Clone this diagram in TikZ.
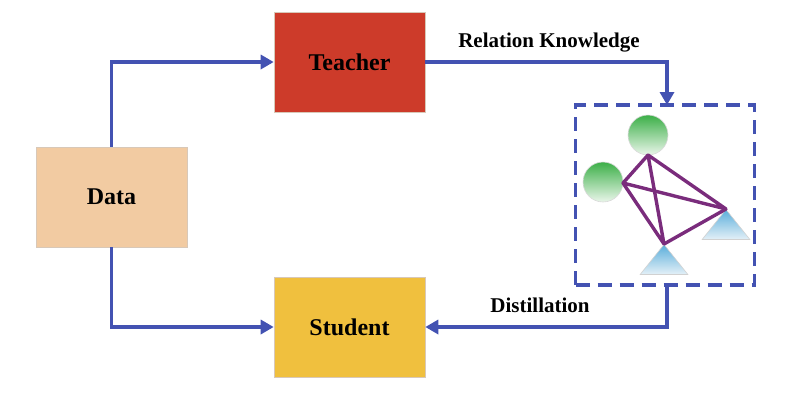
\documentclass[tikz,border=0pt]{standalone}
\usepackage{fontspec}
\setmainfont{Liberation Serif}
\usetikzlibrary{arrows.meta,shapes.geometric}
\definecolor{arrowblue}{HTML}{4352B2}
\definecolor{teacherred}{HTML}{CD3B2A}
\definecolor{datapeach}{HTML}{F2CBA2}
\definecolor{studentgold}{HTML}{F0C03E}
\definecolor{edgepurple}{HTML}{7A2C7C}
\definecolor{boxedge}{HTML}{D8C8B8}
\definecolor{balltop}{HTML}{3CAF48}
\definecolor{ballbot}{HTML}{EAF6EA}
\definecolor{conetop}{HTML}{5AAEDB}
\definecolor{conebot}{HTML}{E4F0F7}
\tikzset{
  blockbox/.style={draw=boxedge, line width=0.6pt, minimum width=151pt, minimum height=100pt, inner sep=0pt, font=\fontsize{24}{28}\selectfont\bfseries},
  flow/.style={draw=arrowblue, line width=3.6pt, -{Triangle[length=13pt,width=14pt]}},
  lbl/.style={font=\fontsize{21}{25}\selectfont\bfseries, inner sep=0pt},
  ball/.style={circle, minimum size=40pt, inner sep=0pt, draw=black!15, line width=0.6pt, top color=balltop, bottom color=ballbot},
  cone/.style={isosceles triangle, shape border rotate=90, isosceles triangle apex angle=77, minimum height=30pt, inner sep=0pt, draw=black!18, line width=0.6pt, top color=conetop, bottom color=conebot, anchor=apex},
  relation/.style={draw=edgepurple, line width=3.4pt}
}
\begin{document}
\begin{tikzpicture}[x=1pt,y=-1pt]
\useasboundingbox (0,0) rectangle (797,392);
\node[blockbox, fill=datapeach] (data) at (111.5,197) {Data};
\node[blockbox, fill=teacherred] (teacher) at (349.5,62) {Teacher};
\node[blockbox, fill=studentgold] (student) at (349.5,327) {Student};

\node[draw=arrowblue, line width=3.4pt, dash pattern=on 14pt off 8pt, minimum width=179pt, minimum height=180pt, inner sep=0pt] (kbox) at (665,195) {};

\coordinate (up) at (111.5,62);
\coordinate (down) at (111.5,327);
\coordinate (tr) at (667,62);
\coordinate (ktop) at (667,105);
\coordinate (kbot) at (667,285);
\coordinate (br) at (667,327);

\draw[flow] (data.north) -- (up) -- (teacher.west);
\draw[flow] (data.south) -- (down) -- (student.west);
\draw[flow] (teacher.east) -- (tr) -- (ktop);
\draw[flow] (kbot) -- (br) -- (student.east);

\node[lbl] (rk) at (549,43) {Relation Knowledge};
\node[lbl] (dist) at (540,305) {Distillation};

\node[ball] (c1) at (648,135) {};
\node[ball] (c2) at (603,182) {};
\node[cone] (t1) at (726,209) {};
\node[cone] (t2) at (664,244) {};

\coordinate (p1) at (648,155);
\coordinate (p2) at (623,183);
\coordinate (p3) at (t1.apex);
\coordinate (p4) at (t2.apex);
\draw[relation, line join=round] (p1) -- (p2) -- (p3) -- (p1) -- (p4) -- (p2);
\draw[relation] (p4) -- (p3);
\end{tikzpicture}
\end{document}
